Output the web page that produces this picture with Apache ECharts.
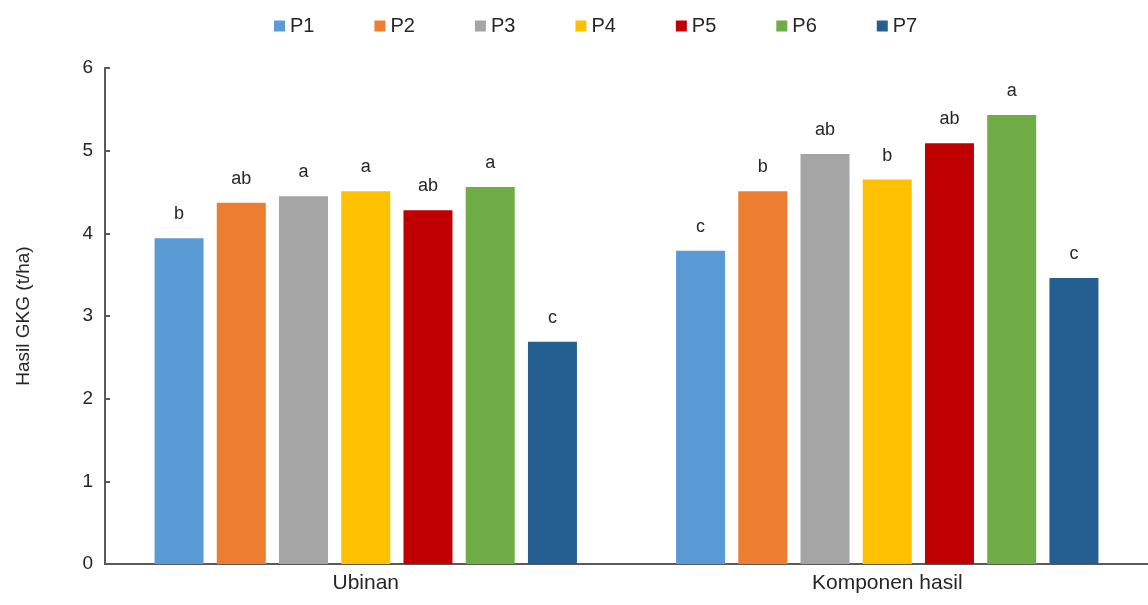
<!DOCTYPE html>
<html>
<head>
<meta charset="utf-8">
<script src="https://cdn.jsdelivr.net/npm/echarts@6/dist/echarts.min.js"></script>
<style>html,body{margin:0;padding:0;background:#fff}#c{width:1148px;height:605px}</style>
</head>
<body>
<div id="c"></div>
<script>
const categories = ['Ubinan', 'Komponen hasil'];
const seriesNames = ['P1', 'P2', 'P3', 'P4', 'P5', 'P6', 'P7'];
const colors = ['#5B9BD5', '#ED7D31', '#A5A5A5', '#FFC000', '#C00000', '#70AD47', '#255E91'];
const P1 = [3.94, 3.79];
const P2 = [4.37, 4.51];
const P3 = [4.45, 4.96];
const P4 = [4.51, 4.65];
const P5 = [4.28, 5.09];
const P6 = [4.56, 5.43];
const P7 = [2.69, 3.46];
const letters = [
  ['b', 'c'],
  ['ab', 'b'],
  ['a', 'ab'],
  ['a', 'b'],
  ['ab', 'ab'],
  ['a', 'a'],
  ['c', 'c']
];
const values = [P1, P2, P3, P4, P5, P6, P7];
const yTicks = [0, 1, 2, 3, 4, 5, 6];

const font = 'Liberation Sans, Arial, sans-serif';
const chart = echarts.init(document.getElementById('c'));
chart.setOption({
  animation: false,
  backgroundColor: '#fff',
  legend: {
    top: 11,
    left: 269,
    itemWidth: 11,
    itemHeight: 11,
    itemGap: 60,
    icon: 'rect',
    textStyle: { fontFamily: font, fontSize: 20, color: '#262626' },
    data: seriesNames
  },
  grid: { left: 105, width: 1050, top: 68, bottom: 41, containLabel: false },
  xAxis: {
    type: 'category',
    data: categories,
    axisLine: { lineStyle: { color: '#595959', width: 2 } },
    axisTick: { show: false },
    axisLabel: { fontFamily: font, fontSize: 21, color: '#262626', margin: 9 }
  },
  yAxis: {
    type: 'value',
    min: yTicks[0],
    max: yTicks[yTicks.length - 1],
    interval: 1,
    name: 'Hasil GKG (t/ha)',
    nameLocation: 'middle',
    nameGap: 72,
    nameTextStyle: { fontFamily: font, fontSize: 19, color: '#262626' },
    axisLine: { show: true, lineStyle: { color: '#595959', width: 2 } },
    axisTick: { show: true, inside: true, length: 5, lineStyle: { color: '#595959', width: 2 } },
    axisLabel: { fontFamily: font, fontSize: 19, color: '#262626', margin: 12 },
    splitLine: { show: false }
  },
  series: seriesNames.map((n, i) => ({
    name: n,
    type: 'bar',
    data: values[i],
    barWidth: 49,
    barGap: '27%',
    itemStyle: { color: colors[i] },
    label: {
      show: true,
      position: 'top',
      distance: 15,
      fontFamily: font,
      fontSize: 18,
      color: '#262626',
      formatter: p => letters[i][p.dataIndex]
    }
  }))
});
</script>
</body>
</html>
